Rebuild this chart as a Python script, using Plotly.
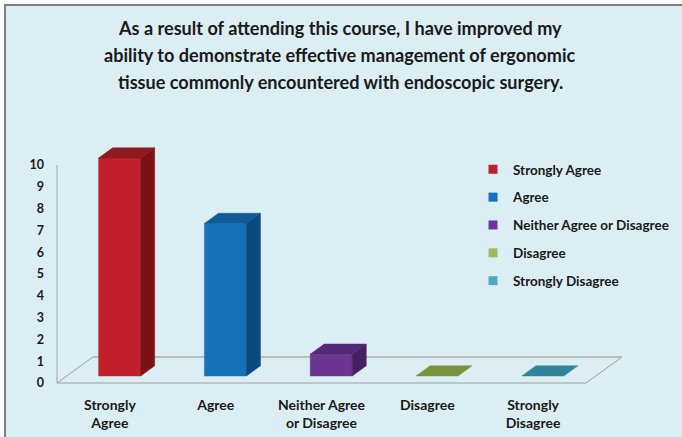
import plotly.graph_objects as go

# ---------------- data ----------------
categories = ["Strongly Agree", "Agree", "Neither Agree or Disagree", "Disagree", "Strongly Disagree"]
tick_labels = ["Strongly<br>Agree", "Agree", "Neither Agree<br>or Disagree", "Disagree", "Strongly<br>Disagree"]
values = [10, 7, 1, 0, 0]
y_ticks = list(range(0, 11))
title_lines = [
    "As a result of attending this course, I have improved my",
    "ability to demonstrate effective management of ergonomic",
    "tissue commonly encountered with endoscopic surgery.",
]

# ---------------- styles ----------------
front_colors = ["#C2202A", "#1571BA", "#6B3591", "#9BBB59", "#4BACC6"]
top_colors = ["#8F1A1D", "#0F5B98", "#532878", "#77933C", "#31849B"]
side_colors = ["#7D1215", "#0C4A7D", "#45215F", "#5E7530", "#256A7D"]
legend_colors = ["#C0202A", "#1570BF", "#7030A0", "#9BBB59", "#4BACC6"]
BG = "#DBEEF4"
FONT = "Lato"
TXT = "#1A1A1A"

W, H = 682, 437
L, R, T, B = 45, 0, 0, 47
PXX = 105.8   # px per category slot
PXY = 21.8    # px per value unit
ORIGIN_PX = (57, 383)  # front-left floor corner in pixels
DEPTH_PX = (36, -26)   # full floor depth offset in pixels
DX = DEPTH_PX[0] / PXX
DY = -DEPTH_PX[1] / PXY
BAR_W = 42 / PXX
Z0, Z1 = 0.27, 0.66

x_lo = (L - ORIGIN_PX[0]) / PXX
x_hi = (W - R - ORIGIN_PX[0]) / PXX
y_lo = -((H - B) - ORIGIN_PX[1]) / PXY
y_hi = (ORIGIN_PX[1] - T) / PXY


def xp(px):
    return (px - L) / (W - L - R)


def yp(py):
    return (H - B - py) / (H - T - B)


def proj(pts):
    xs = [p[0] + p[2] * DX for p in pts]
    ys = [p[1] + p[2] * DY for p in pts]
    return xs + [xs[0]], ys + [ys[0]]


fig = go.Figure()

# floor outline
n = len(categories)
fx, fy = proj([(0, 0, 1), (0, 0, 0), (n, 0, 0), (n, 0, 1)])
fig.add_trace(go.Scatter(x=fx[:4], y=fy[:4], mode="lines",
                         line=dict(color="#9E9E9E", width=1), showlegend=False, hoverinfo="skip"))
bx, by = proj([(0, 0, 1), (n, 0, 1)])
fig.add_trace(go.Scatter(x=bx[:2], y=by[:2], mode="lines",
                         line=dict(color="#BDBDBD", width=2), showlegend=False, hoverinfo="skip"))
# value axis line
fig.add_trace(go.Scatter(x=[0, 0], y=[0, y_ticks[-1]], mode="lines",
                         line=dict(color="#A6A6A6", width=1), showlegend=False, hoverinfo="skip"))

# 3D bars
for i, (cat, v) in enumerate(zip(categories, values)):
    xl = i + 0.5 - BAR_W / 2
    xr = i + 0.5 + BAR_W / 2
    faces = []
    if v > 0:
        faces.append(([(xl, 0, Z0), (xr, 0, Z0), (xr, v, Z0), (xl, v, Z0)], front_colors[i]))
        faces.append(([(xr, 0, Z0), (xr, 0, Z1), (xr, v, Z1), (xr, v, Z0)], side_colors[i]))
    faces.append(([(xl, v, Z0), (xr, v, Z0), (xr, v, Z1), (xl, v, Z1)], top_colors[i]))
    for pts, col in faces:
        px_, py_ = proj(pts)
        fig.add_trace(go.Scatter(x=px_, y=py_, mode="lines", fill="toself", fillcolor=col,
                                 line=dict(color=col, width=0.5), showlegend=False,
                                 name=cat, hoverinfo="name"))

# legend entries
for i, cat in enumerate(categories):
    fig.add_trace(go.Scatter(x=[None], y=[None], mode="markers", name=cat, legendgroup=cat,
                             marker=dict(symbol="square", size=9, color=legend_colors[i]),
                             showlegend=True))

# title lines
for k, line in enumerate(title_lines):
    fig.add_annotation(text=line, xref="paper", yref="paper", x=xp(340), y=yp(28 + 27 * k),
                       xanchor="center", yanchor="middle", showarrow=False,
                       font=dict(family=FONT, size=18.1, color=TXT, weight="bold"))

# frame
fig.add_shape(type="rect", xref="paper", yref="paper", x0=xp(5), y0=yp(H + 20), x1=xp(W + 20), y1=yp(5),
              line=dict(color="#7F7F7F", width=2), fillcolor=BG, layer="below")

fig.update_layout(
    width=W, height=H,
    margin=dict(l=L, r=R, t=T, b=B, pad=0, autoexpand=False),
    paper_bgcolor="white", plot_bgcolor="rgba(0,0,0,0)",
    font=dict(family=FONT, color=TXT),
    showlegend=True,
    legend=dict(x=xp(473), y=yp(154), xanchor="left", yanchor="top",
                bgcolor="rgba(0,0,0,0)", tracegroupgap=7.3,
                font=dict(family=FONT, size=13.5, color=TXT, weight="bold")),
    xaxis=dict(range=[x_lo, x_hi], showgrid=False, zeroline=False, showline=False,
               tickvals=[i + 0.5 for i in range(n)], ticktext=tick_labels,
               tickfont=dict(family=FONT, size=14, color=TXT, weight="bold"),
               ticks="", ticklabelstandoff=5, automargin=False, fixedrange=True),
    yaxis=dict(range=[y_lo, y_hi], showgrid=False, zeroline=False, showline=False,
               tickvals=y_ticks, ticktext=[str(t) for t in y_ticks],
               tickfont=dict(family=FONT, size=12.5, color=TXT, weight="bold"),
               ticks="", automargin=False, fixedrange=True),
)

fig.write_html("out.html", config={"displayModeBar": False},
               post_script="document.body.style.margin='0';document.body.style.overflow='hidden';")
